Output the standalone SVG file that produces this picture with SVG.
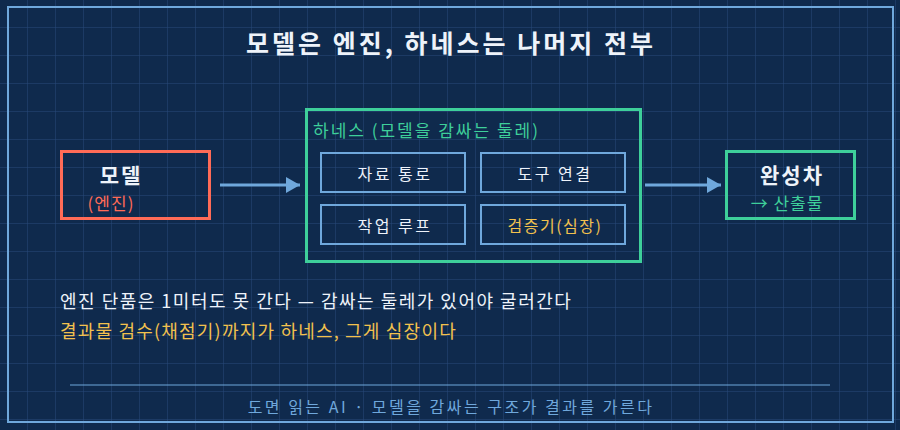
<svg xmlns="http://www.w3.org/2000/svg" width="900" height="430" viewBox="0 0 900 430">
<defs>
<pattern id="grid" width="28" height="28" patternUnits="userSpaceOnUse">
<path d="M28 0V28M0 28H28" fill="none" stroke="#27497a" stroke-width="1"/>
</pattern>
<marker id="ah" markerWidth="14" markerHeight="16" refX="14" refY="8" orient="auto" markerUnits="userSpaceOnUse">
<path d="M0 0L14 8L0 16Z" fill="#6fa8dc"/>
</marker>
<style>
text{font-family:"Noto Sans CJK KR","Noto Sans",sans-serif}
.t{fill:#eef3fa;font-size:25px;font-weight:700;letter-spacing:3px}
.nm{fill:#eef3fa;font-size:21px;font-weight:700;letter-spacing:2px}
.sub{font-size:17px;letter-spacing:1px}
.in{fill:#eef3fa;font-size:16px;letter-spacing:2.5px}
.ib{fill:none;stroke:#6fa8dc;stroke-width:2}
.conn{stroke:#6fa8dc;stroke-width:3;fill:none}
.body{font-size:18px;letter-spacing:1.5px}
</style>
</defs>
<rect width="900" height="430" fill="#0f2a4d"/>
<rect width="900" height="430" fill="url(#grid)"/>
<rect x="8" y="7" width="885" height="415" fill="none" stroke="#6fa8dc" stroke-width="2"/>
<text class="t" x="451" y="53" text-anchor="middle">모델은 엔진, 하네스는 나머지 전부</text>

<g id="model">
<rect x="61.5" y="151.5" width="148" height="67" fill="none" stroke="#ff6b57" stroke-width="3"/>
<text class="nm" x="121" y="183" text-anchor="middle">모델</text>
<text class="sub" x="111" y="210" text-anchor="middle" fill="#ff6b57">(엔진)</text>
</g>

<g id="harness">
<rect x="306.5" y="109.5" width="334" height="152" fill="none" stroke="#3ecf9a" stroke-width="3"/>
<text class="sub" x="313" y="137" fill="#3ecf9a" style="letter-spacing:2px">하네스 (모델을 감싸는 둘레)</text>
</g>
<g id="data-path">
<rect class="ib" x="321" y="153" width="144" height="39"/>
<text class="in" x="395" y="180" text-anchor="middle">자료 통로</text>
</g>
<g id="tool-link">
<rect class="ib" x="481" y="153" width="144" height="39"/>
<text class="in" x="555" y="180" text-anchor="middle">도구 연결</text>
</g>
<g id="work-loop">
<rect class="ib" x="321" y="205" width="144" height="39"/>
<text class="in" x="395" y="232" text-anchor="middle">작업 루프</text>
</g>
<g id="verifier">
<rect class="ib" x="481" y="205" width="144" height="39"/>
<text class="in" x="555" y="232" text-anchor="middle" style="fill:#f2c14e;letter-spacing:1.5px">검증기(심장)</text>
</g>

<g id="car">
<rect x="726.5" y="151.5" width="128" height="67" fill="none" stroke="#3ecf9a" stroke-width="3"/>
<text class="nm" x="792" y="183" text-anchor="middle">완성차</text>
<text class="sub" x="787" y="210" text-anchor="middle" fill="#3ecf9a">→ 산출물</text>
</g>

<g id="connectors">
<line class="conn" x1="220" y1="185" x2="300" y2="185" marker-end="url(#ah)"/>
<line class="conn" x1="645" y1="185" x2="721" y2="185" marker-end="url(#ah)"/>
</g>

<text class="body" x="60" y="308" fill="#eef3fa">엔진 단품은 1미터도 못 간다 — 감싸는 둘레가 있어야 굴러간다</text>
<text class="body" x="60" y="338" fill="#f2c14e" style="letter-spacing:1.2px">결과물 검수(채점기)까지가 하네스, 그게 심장이다</text>
<line x1="70" y1="385" x2="830" y2="385" stroke="#6fa8dc" stroke-width="1"/>
<text x="451" y="413" font-size="16" text-anchor="middle" fill="#6fa8dc" letter-spacing="2.5">도면 읽는 AI · 모델을 감싸는 구조가 결과를 가른다</text>
</svg>
